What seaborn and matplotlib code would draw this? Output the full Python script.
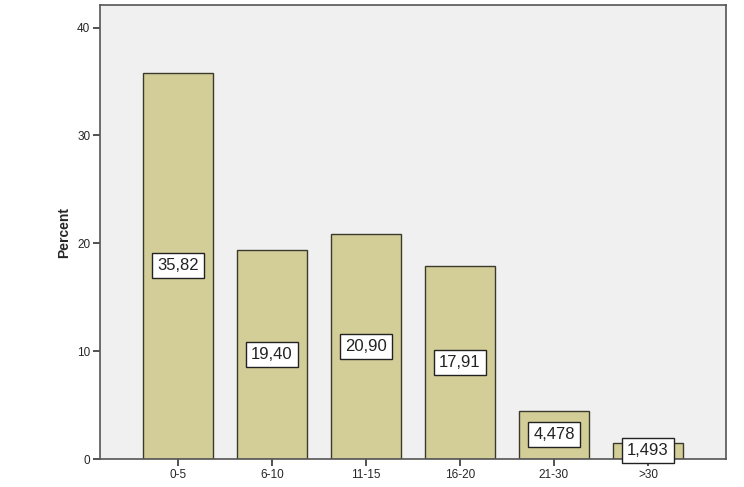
import pandas as pd
import matplotlib
matplotlib.use("Agg")
import matplotlib.pyplot as plt
import seaborn as sn

categories = ["0-5", "6-10", "11-15", "16-20", "21-30", ">30"]
percent = [35.82, 19.40, 20.90, 17.91, 4.478, 1.493]
value_labels = ["35,82", "19,40", "20,90", "17,91", "4,478", "1,493"]
y_ticks = [0, 10, 20, 30, 40]

sn.set_style("white")
plt.rcParams["font.family"] = ["Liberation Sans", "DejaVu Sans"]

df = pd.DataFrame({"group": categories, "Percent": percent})

fig = plt.figure(figsize=(7.44, 4.87), dpi=100)
ax = fig.add_axes([100 / 744, 28 / 487, 626 / 744, 454 / 487])
ax.set_facecolor("#f0f0f0")

sn.barplot(data=df, x="group", y="Percent", color="#d3ce97", saturation=1,
           width=0.75, edgecolor="#3a3a2c", linewidth=1.0, ax=ax)

# value labels in white boxes at half bar height
for i, (v, lab) in enumerate(zip(percent, value_labels)):
    ax.text(i, v / 2, lab, ha="center", va="center", fontsize=12, color="#222222",
            bbox=dict(boxstyle="square,pad=0.3", fc="white", ec="#222222", lw=1.0))

ax.set_xlim(-0.83, 5.83)
ax.set_ylim(0, 42.1)
ax.set_yticks(y_ticks)
ax.set_xlabel("")
ax.set_ylabel("Percent", fontsize=10, fontweight="bold", labelpad=4)

for side in ["top", "right", "left", "bottom"]:
    ax.spines[side].set_color("#555555")
    ax.spines[side].set_linewidth(1.2)

ax.tick_params(axis="both", direction="out", length=5, width=1.2, color="#333333",
               labelsize=8.5, pad=2)
ax.tick_params(axis="x", bottom=True)
ax.tick_params(axis="y", left=True)

fig.savefig("out.png", dpi=100, facecolor="white")
